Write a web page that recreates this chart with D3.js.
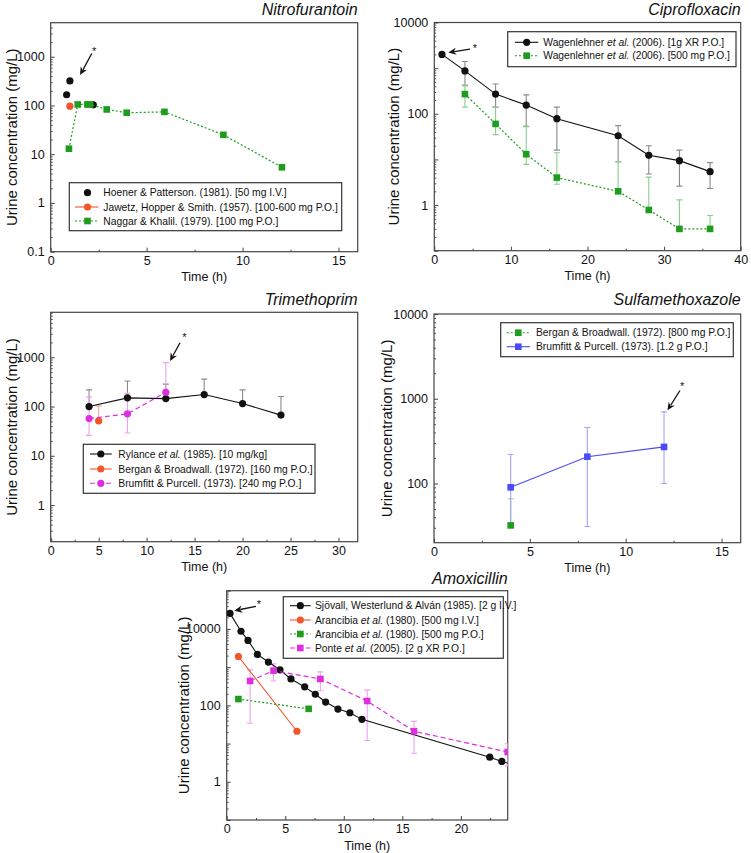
<!DOCTYPE html>
<html><head><meta charset="utf-8">
<script src="https://cdn.jsdelivr.net/npm/d3@7"></script>
<style>
body{margin:0;background:#fff}
svg{display:block}
text{font-family:"Liberation Sans",Arial,Helvetica,sans-serif;fill:#111}
</style>
</head><body>
<svg id="c" width="751" height="853"></svg>
<script>
// ---------------- DATA ----------------
// Nitrofurantoin
const nitroHoenerT = [0.83, 1.0, 2.22];
const nitroHoenerC = [166, 320, 103];
const nitroJawetzT = [1.0];
const nitroJawetzC = [97];
const nitroNaggarT = [0.95, 1.41, 1.91, 2.05, 2.92, 3.96, 5.93, 9.0, 12.05];
const nitroNaggarC = [13, 105, 105, 105, 83, 71, 74, 25, 5.4];

// Ciprofloxacin
const ciproXRT = [1, 4, 8, 12, 16, 24, 28, 32, 36];
const ciproXRC = [2000, 870, 270, 155, 78, 33, 12.3, 9.4, 5.4];
const ciproXRLo = [null, 410, 140, 53, 16, 8.9, 4.8, 2.6, 2.3];
const ciproXRHi = [null, 1400, 450, 260, 140, 55, 20, 16, 8.5];
const cipro500T = [4, 8, 12, 16, 24, 28, 32, 36];
const cipro500C = [270, 60, 13, 4.0, 2.0, 0.78, 0.30, 0.30];
const cipro500Lo = [140, 35, 7.8, 2.85, null, null, null, null];
const cipro500Hi = [430, 138, 52, 14, 8.9, 4.1, 1.3, 0.59];

// Trimethoprim
const trimRylanceT = [4, 8, 12, 16, 20, 24];
const trimRylanceC = [100, 150, 145, 175, 115, 67];
const trimRylanceHi = [218, 330, 285, 360, 218, 160];
const trimBerganT = [5];
const trimBerganC = [51];
const trimBerganHi = [103];
const trimBrumfittT = [4, 8, 12];
const trimBrumfittC = [57, 71, 195];
const trimBrumfittLo = [26, 29, null];
const trimBrumfittHi = [155, 185, 780];

// Sulfamethoxazole
const sulfaBerganT = [4];
const sulfaBerganC = [32];
const sulfaBerganHi = [66];
const sulfaBrumfittT = [4, 8, 12];
const sulfaBrumfittC = [90, 207, 270];
const sulfaBrumfittLo = [33, 31, 100];
const sulfaBrumfittHi = [220, 458, 700];

// Amoxicillin
const amoxSjovallT = [0.28, 1.22, 1.82, 2.62, 3.56, 4.55, 5.49, 6.66, 7.57, 8.45, 9.5, 10.52, 11.55, 22.47, 23.5, 24.6];
const amoxSjovallC = [25500, 8700, 5000, 2150, 1360, 850, 490, 305, 195, 122, 80, 64, 43, 4.4, 3.4, 2.7];
const amoxAranIVT = [1, 6];
const amoxAranIVC = [1900, 21];
const amoxAranPOT = [1, 7];
const amoxAranPOC = [146, 81];
const amoxPonteT = [2, 4, 8, 12, 16, 24];
const amoxPonteC = [435, 810, 490, 130, 21, 6];
const amoxPonteLo = [34, 435, 240, 12, 5.6, 2.6];
const amoxPonteHi = [850, 1230, 750, 250, 38, 9.9];

// Tick labels
const nitroYLabels = [0.1, 1, 10, 100, 1000];
const ciproYLabels = [1, 100, 10000];
const trimYLabels = [1, 10, 100, 1000];
const sulfaYLabels = [100, 1000, 10000];
const amoxYLabels = [1, 100, 10000];
const nitroXTicks = [0, 5, 10, 15];
const ciproXTicks = [0, 10, 20, 30, 40];
const trimXTicks = [0, 5, 10, 15, 20, 25, 30];
const sulfaXTicks = [0, 5, 10, 15];
const amoxXTicks = [0, 5, 10, 15, 20];

// ---------------- STYLES ----------------
const C = {
  black: {c: "#111", e: "#8a8a8a"},
  orange: {c: "#f2552c", e: "#f5a88f"},
  green: {c: "#1d9c1d", e: "#8ccf8c"},
  magenta: {c: "#de2ede", e: "#eea2ee"},
  blue: {c: "#4b4bf5", e: "#a4a4f7"}
};
const DASH = {solid: null, dotted: "2,2", dashed: "5,3", none: null};

const zip = (t, c, lo, hi) => t.map((d, i) => ({t: d, c: c[i], lo: lo ? lo[i] : null, hi: hi ? hi[i] : null}));

const panels = [
  {
    id: 1, title: "Nitrofurantoin", left: 50.7, top: 22.7, width: 307, height: 229,
    xDomain: [0, 16], yDomain: [0.1, 5000], xTicks: nitroXTicks, yLabels: nitroYLabels,
    yLabelX: 12, titleY: 15,
    series: [
      {name: "Hoener & Patterson. (1981). [50 mg I.V.]", pts: zip(nitroHoenerT, nitroHoenerC), col: C.black, marker: "circle", line: "none"},
      {name: "Jawetz, Hopper & Smith. (1957). [100-600 mg P.O.]", pts: zip(nitroJawetzT, nitroJawetzC), col: C.orange, marker: "circle", line: "solid"},
      {name: "Naggar & Khalil. (1979). [100 mg P.O.]", pts: zip(nitroNaggarT, nitroNaggarC), col: C.green, marker: "square", line: "dotted"}
    ],
    legend: {x: 69.3, y: 182.7, w: 272.4, h: 48, rows: [192.7, 207, 221], s1: 75, s2: 98.3, m: 87.5, tx: 103.3},
    note: {star: [2.27, 1320], from: [2.14, 1170], to: [1.53, 420]}
  },
  {
    id: 2, title: "Ciprofloxacin", left: 434.3, top: 22.5, width: 306.4, height: 228.2,
    xDomain: [0, 40], yDomain: [0.1, 10000], xTicks: ciproXTicks, yLabels: ciproYLabels,
    yLabelX: 394, titleY: 15,
    series: [
      {name: "Wagenlehner et al. (2006). [1g XR P.O.]", pts: zip(ciproXRT, ciproXRC, ciproXRLo, ciproXRHi), col: C.black, marker: "circle", line: "solid"},
      {name: "Wagenlehner et al. (2006). [500 mg P.O.]", pts: zip(cipro500T, cipro500C, cipro500Lo, cipro500Hi), col: C.green, marker: "square", line: "dotted"}
    ],
    legend: {x: 507.7, y: 31.7, w: 228.3, h: 35, rows: [42.3, 55.7], s1: 515, s2: 538.3, m: 526.7, tx: 543.3},
    note: {star: [5.3, 2800], from: [4.65, 2600], to: [1.83, 2200]}
  },
  {
    id: 3, title: "Trimethoprim", left: 50.7, top: 312.3, width: 307, height: 229.4,
    xDomain: [0, 32], yDomain: [0.18, 8200], xTicks: trimXTicks, yLabels: trimYLabels,
    yLabelX: 12, titleY: 305,
    series: [
      {name: "Rylance et al. (1985). [10 mg/kg]", pts: zip(trimRylanceT, trimRylanceC, null, trimRylanceHi), col: C.black, marker: "circle", line: "solid"},
      {name: "Bergan & Broadwall. (1972). [160 mg P.O.]", pts: zip(trimBerganT, trimBerganC, null, trimBerganHi), col: C.orange, marker: "circle", line: "solid"},
      {name: "Brumfitt & Purcell. (1973). [240 mg P.O.]", pts: zip(trimBrumfittT, trimBrumfittC, trimBrumfittLo, trimBrumfittHi), col: C.magenta, marker: "circle", line: "dashed"}
    ],
    legend: {x: 83.3, y: 444.3, w: 231.7, h: 49, rows: [454, 469, 483.3], s1: 90, s2: 111.7, m: 100.8, tx: 118.3},
    note: {star: [13.93, 2600], from: [13.48, 1980], to: [12.44, 840]}
  },
  {
    id: 4, title: "Sulfamethoxazole", left: 434, top: 314, width: 306.7, height: 228.7,
    xDomain: [0, 16], yDomain: [20, 10000], xTicks: sulfaXTicks, yLabels: sulfaYLabels,
    yLabelX: 387, titleY: 305,
    series: [
      {name: "Bergan & Broadwall. (1972). [800 mg P.O.]", pts: zip(sulfaBerganT, sulfaBerganC, null, sulfaBerganHi), col: C.green, marker: "square", line: "dotted"},
      {name: "Brumfitt & Purcell. (1973). [1.2 g P.O.]", pts: zip(sulfaBrumfittT, sulfaBrumfittC, sulfaBrumfittLo, sulfaBrumfittHi), col: C.blue, marker: "square", line: "solid"}
    ],
    legend: {x: 500.7, y: 322.7, w: 232.6, h: 34, rows: [332.7, 346.7], s1: 506.7, s2: 530, m: 518.3, tx: 536},
    note: {star: [12.95, 1400], from: [12.83, 1250], to: [12.18, 730]}
  },
  {
    id: 5, title: "Amoxicillin", left: 226.7, top: 590.7, width: 281, height: 229.3,
    xDomain: [0, 24], yDomain: [0.1, 100000], xTicks: amoxXTicks, yLabels: amoxYLabels,
    yLabelX: 184, titleY: 584,
    series: [
      {name: "Sjövall, Westerlund & Alván (1985). [2 g I.V.]", pts: zip(amoxSjovallT, amoxSjovallC), col: C.black, marker: "circle", line: "solid"},
      {name: "Arancibia et al. (1980). [500 mg I.V.]", pts: zip(amoxAranIVT, amoxAranIVC), col: C.orange, marker: "circle", line: "solid"},
      {name: "Arancibia et al. (1980). [500 mg P.O.]", pts: zip(amoxAranPOT, amoxAranPOC), col: C.green, marker: "square", line: "dotted"},
      {name: "Ponte et al. (2005). [2 g XR P.O.]", pts: zip(amoxPonteT, amoxPonteC, amoxPonteLo, amoxPonteHi), col: C.magenta, marker: "square", line: "dashed"}
    ],
    legend: {x: 283.3, y: 596.7, w: 220, h: 61.6, rows: [605.7, 620, 634, 648], s1: 290, s2: 310.7, m: 300.3, tx: 315},
    note: {star: [2.76, 45000], from: [2.5, 39000], to: [0.65, 30000]}
  }
];

// ---------------- DRAW ----------------
const svg = d3.select("#c");
const defs = svg.append("defs");

function drawMarker(sel, type, cx, cy, color) {
  if (type === "circle") {
    sel.append("circle").attr("cx", cx).attr("cy", cy).attr("r", 3.6).attr("fill", color);
  } else {
    sel.append("rect").attr("x", cx - 3.3).attr("y", cy - 3.3).attr("width", 6.6).attr("height", 6.6).attr("fill", color);
  }
}

function writeName(textSel, name) {
  const parts = name.split("et al.");
  textSel.append("tspan").text(parts[0]);
  if (parts.length > 1) {
    textSel.append("tspan").attr("font-style", "italic").text("et al.");
    textSel.append("tspan").text(parts[1]);
  }
}

panels.forEach(p => {
  const g = svg.append("g");
  const x = d3.scaleLinear().domain(p.xDomain).range([p.left, p.left + p.width]);
  const y = d3.scaleLog().domain(p.yDomain).range([p.top + p.height, p.top]);
  const bottom = p.top + p.height;

  // x axis
  const xMinor = [];
  for (let i = 0; i < p.xTicks.length; i++) {
    const step = p.xTicks[1] - p.xTicks[0];
    const v = p.xTicks[i] + step / 2;
    if (v < p.xDomain[1]) xMinor.push(v);
  }
  const ax = g.append("g").attr("transform", `translate(0,${bottom})`)
    .call(d3.axisBottom(x).tickValues(p.xTicks).tickSize(-4).tickPadding(4).tickFormat(d3.format("d")));
  ax.select(".domain").remove();
  ax.selectAll("line").attr("stroke", "#444");
  ax.selectAll("text").attr("font-size", 12.5).attr("font-family", "Liberation Sans, Arial, sans-serif").attr("fill", "#111");
  const axm = g.append("g").attr("transform", `translate(0,${bottom})`)
    .call(d3.axisBottom(x).tickValues(xMinor).tickSize(-2).tickFormat(""));
  axm.select(".domain").remove();
  axm.selectAll("line").attr("stroke", "#444");

  // y axis
  const lo = Math.floor(Math.log10(p.yDomain[0])), hi = Math.ceil(Math.log10(p.yDomain[1]));
  const major = [], minor = [];
  for (let e = lo; e <= hi; e++) {
    const b = Math.pow(10, e);
    if (b >= p.yDomain[0] * 0.999 && b <= p.yDomain[1] * 1.001) major.push(+b.toPrecision(3));
    for (let k = 2; k <= 9; k++) {
      const v = k * b;
      if (v > p.yDomain[0] && v < p.yDomain[1]) minor.push(+v.toPrecision(3));
    }
  }
  const ay = g.append("g").attr("transform", `translate(${p.left},0)`)
    .call(d3.axisLeft(y).tickValues(major).tickSize(-4).tickPadding(6)
      .tickFormat(d => p.yLabels.some(l => Math.abs(l - d) / l < 1e-6) ? String(d) : ""));
  ay.select(".domain").remove();
  ay.selectAll("line").attr("stroke", "#444");
  ay.selectAll("text").attr("font-size", 12.5).attr("font-family", "Liberation Sans, Arial, sans-serif").attr("fill", "#111");
  const aym = g.append("g").attr("transform", `translate(${p.left},0)`)
    .call(d3.axisLeft(y).tickValues(minor).tickSize(-2).tickFormat(""));
  aym.select(".domain").remove();
  aym.selectAll("line").attr("stroke", "#555");

  // frame
  g.append("rect").attr("x", p.left).attr("y", p.top).attr("width", p.width).attr("height", p.height)
    .attr("fill", "none").attr("stroke", "#444").attr("stroke-width", 1.2);

  // labels
  g.append("text").attr("x", p.left + p.width).attr("y", p.titleY).attr("text-anchor", "end")
    .attr("font-size", 16).attr("font-style", "italic").attr("fill", "#222").text(p.title);
  g.append("text").attr("x", p.left + p.width / 2).attr("y", bottom + 29.5).attr("text-anchor", "middle")
    .attr("font-size", 12.5).text("Time (h)");
  g.append("text").attr("transform", `translate(${p.yLabelX},${p.top + p.height / 2}) rotate(-90)`)
    .attr("dy", "0.35em").attr("text-anchor", "middle").attr("font-size", 15).text("Urine concentration (mg/L)");

  // data
  const clipId = "clip" + p.id;
  defs.append("clipPath").attr("id", clipId).append("rect")
    .attr("x", p.left).attr("y", p.top).attr("width", p.width).attr("height", p.height);
  const plot = g.append("g").attr("clip-path", `url(#${clipId})`);

  // error bars
  p.series.forEach(s => {
    s.pts.forEach(d => {
      if (d.lo == null && d.hi == null) return;
      const y1 = y(d.lo != null ? d.lo : d.c), y2 = y(d.hi != null ? d.hi : d.c), cx = x(d.t);
      plot.append("line").attr("x1", cx).attr("x2", cx).attr("y1", y1).attr("y2", y2)
        .attr("stroke", s.col.e).attr("stroke-width", 1.1);
      [d.lo, d.hi].forEach(v => {
        if (v == null) return;
        plot.append("line").attr("x1", cx - 3).attr("x2", cx + 3).attr("y1", y(v)).attr("y2", y(v))
          .attr("stroke", s.col.e).attr("stroke-width", 1.1);
      });
    });
  });
  // lines and markers
  p.series.forEach(s => {
    if (s.line !== "none" && s.pts.length > 1) {
      plot.append("path").datum(s.pts)
        .attr("d", d3.line().x(d => x(d.t)).y(d => y(d.c)))
        .attr("fill", "none").attr("stroke", s.col.c).attr("stroke-width", s.line === "solid" ? 1.1 : 1.2)
        .attr("stroke-dasharray", DASH[s.line]);
    }
    s.pts.forEach(d => drawMarker(plot, s.marker, x(d.t), y(d.c), s.col.c));
  });

  // annotation
  const n = p.note;
  g.append("text").attr("x", x(n.star[0])).attr("y", y(n.star[1]) + 4).attr("text-anchor", "middle")
    .attr("font-size", 11).attr("fill", "#222").text("*");
  const fx = x(n.from[0]), fy = y(n.from[1]), tx = x(n.to[0]), ty = y(n.to[1]);
  const ang = Math.atan2(ty - fy, tx - fx), L = 8, Wd = 3.6;
  const bx = tx - L * Math.cos(ang), by = ty - L * Math.sin(ang);
  g.append("line").attr("x1", fx).attr("y1", fy).attr("x2", bx + 2 * Math.cos(ang)).attr("y2", by + 2 * Math.sin(ang))
    .attr("stroke", "#111").attr("stroke-width", 1.3);
  g.append("path").attr("d", `M${tx},${ty} L${bx - Wd * Math.sin(ang)},${by + Wd * Math.cos(ang)} L${bx + 2.5 * Math.cos(ang)},${by + 2.5 * Math.sin(ang)} L${bx + Wd * Math.sin(ang)},${by - Wd * Math.cos(ang)} Z`)
    .attr("fill", "#111");

  // legend
  const lg = p.legend;
  g.append("rect").attr("x", lg.x).attr("y", lg.y).attr("width", lg.w).attr("height", lg.h)
    .attr("fill", "#fff").attr("stroke", "#333").attr("stroke-width", 1.2);
  p.series.forEach((s, i) => {
    const ry = lg.rows[i];
    if (s.line !== "none") {
      g.append("line").attr("x1", lg.s1).attr("x2", lg.s2).attr("y1", ry).attr("y2", ry)
        .attr("stroke", s.col.c).attr("stroke-width", 1.1).attr("stroke-dasharray", DASH[s.line]);
    }
    drawMarker(g, s.marker, lg.m, ry, s.col.c);
    const t = g.append("text").attr("x", lg.tx).attr("y", ry).attr("dy", "0.35em").attr("font-size", 10.3);
    writeName(t, s.name);
  });
});
</script>
</body></html>
